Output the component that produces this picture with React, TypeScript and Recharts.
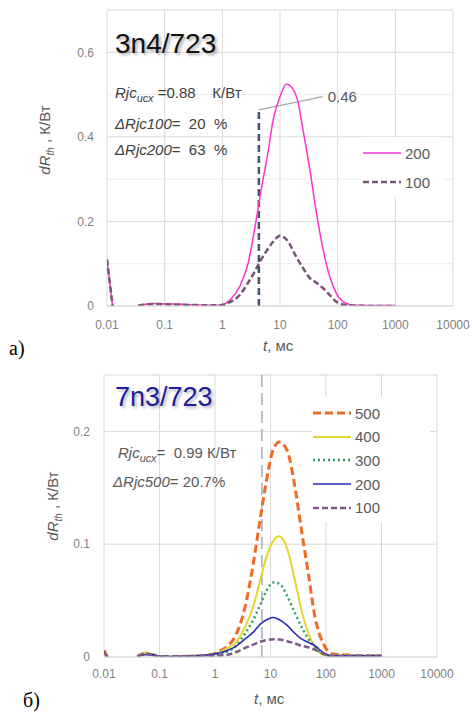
import { CartesianGrid, Line, LineChart, ReferenceDot, ReferenceLine, XAxis, YAxis } from "recharts"

// --- chart а) 3n4/723 ---
const timeA = [0.01, 0.0125, 0.02, 0.035, 0.063, 0.1, 0.2, 0.5, 0.9, 1.35, 2, 2.8, 3.7, 4.5, 6.3, 7.6, 10, 13, 19.4, 25, 33, 43, 56, 73, 95, 141, 200, 500, 1000]
const dR200A = [0.11, 0, null, 0.001, 0.006, 0.005, 0.004, 0.002, 0.002, 0.014, 0.046, 0.101, 0.188, 0.259, 0.37, 0.44, 0.495, 0.525, 0.495, 0.417, 0.322, 0.219, 0.133, 0.069, 0.03, 0.006, 0.002, 0.001, 0.001]
const dR100A = [0.11, 0, null, 0.001, 0.005, 0.004, 0.003, 0.002, 0.002, 0.009, 0.026, 0.055, 0.083, 0.105, 0.137, 0.152, 0.166, 0.157, 0.115, 0.09, 0.066, 0.055, 0.042, 0.026, 0.01, 0.002, 0.001, 0, 0]

// --- chart б) 7n3/723 ---
const timeB = [0.01, 0.0115, 0.02, 0.04, 0.055, 0.075, 0.1, 0.2, 0.5, 1, 1.3, 1.7, 2.3, 3.5, 4.9, 6.5, 8.5, 11.2, 14.5, 20, 27.5, 36, 48, 63, 89, 125, 200, 500, 1000]
const dR500B = [0.006, 0, null, 0.0005, 0.003, 0.002, 0.0005, 0.0005, 0.001, 0.003, 0.006, 0.01, 0.018, 0.045, 0.083, 0.122, 0.157, 0.184, 0.1905, 0.183, 0.151, 0.113, 0.074, 0.036, 0.012, 0.003, 0.002, 0.001, 0.001]
const dR400B = [0.004, 0, null, 0.001, 0.004, 0.002, 0, 0, 0.001, 0.003, 0.005, 0.008, 0.012, 0.027, 0.045, 0.068, 0.089, 0.103, 0.107, 0.096, 0.068, 0.042, 0.021, 0.009, 0.002, 0.001, 0.001, 0.001, 0.001]
const dR300B = [0.005, 0, null, 0.0005, 0.003, 0.002, 0.0005, 0.0005, 0.001, 0.002, 0.003, 0.005, 0.009, 0.021, 0.033, 0.046, 0.059, 0.066, 0.065, 0.054, 0.039, 0.027, 0.016, 0.009, 0.003, 0.001, 0.001, 0.001, 0.001]
const dR200B = [0.004, 0, null, 0.0005, 0.002, 0.002, 0.0005, 0.0005, 0.001, 0.003, 0.004, 0.006, 0.009, 0.016, 0.022, 0.029, 0.033, 0.035, 0.033, 0.028, 0.021, 0.016, 0.013, 0.01, 0.004, 0.001, 0.001, 0.001, 0.001]
const dR100B = [0.004, 0, null, 0.0005, 0.003, 0.002, 0.0005, 0.0005, 0.001, 0.001, 0.0015, 0.002, 0.004, 0.008, 0.011, 0.0135, 0.015, 0.0157, 0.0155, 0.014, 0.012, 0.01, 0.0085, 0.0065, 0.003, 0.001, 0.001, 0.001, 0.001]

const xTicks = [0.01, 0.1, 1, 10, 100, 1000, 10000]
const xTickLabels = ["0.01", "0.1", "1", "10", "100", "1000", "10000"]
const yTicksA = [0, 0.2, 0.4, 0.6, 0.7]
const yTickLabelsA = ["0", "0.2", "0.4", "0.6", ""]
const yMinorA = [0.1, 0.3, 0.5]
const yTicksB = [0, 0.1, 0.2, 0.25]
const yTickLabelsB = ["0", "0.1", "0.2", ""]

const dataA = timeA.map((t, i) => ({ t, s200: dR200A[i], s100: dR100A[i] }))
const dataB = timeB.map((t, i) => ({
  t,
  s500: dR500B[i],
  s400: dR400B[i],
  s300: dR300B[i],
  s200: dR200B[i],
  s100: dR100B[i],
}))

const seriesA = [
  { key: "s200", name: "200", color: "#ff33cc", width: 1.5, dash: undefined },
  { key: "s100", name: "100", color: "#775577", width: 2.5, dash: "6 3" },
]
const seriesB = [
  { key: "s500", name: "500", color: "#ee6a25", width: 3, dash: "8 4" },
  { key: "s400", name: "400", color: "#e4d631", width: 2, dash: undefined },
  { key: "s300", name: "300", color: "#2f9e5e", width: 2.5, dash: "2 3" },
  { key: "s200", name: "200", color: "#2b2bbd", width: 1.6, dash: undefined },
  { key: "s100", name: "100", color: "#7d5a87", width: 2.5, dash: "6 3" },
]

const font = "'Liberation Sans', Arial, sans-serif"
const gridColor = "#d9d9d9"
const tickStyle = { fill: "#7f7f7f", fontSize: 12, fontFamily: font }
const fmtX = (v: number) => xTickLabels[xTicks.indexOf(v)] ?? String(v)

function Txt({ x, y, size = 15, color = "#404040", children, style }: any) {
  return (
    <div
      style={{
        position: "absolute",
        left: x,
        top: y,
        fontSize: size,
        lineHeight: 1,
        color,
        whiteSpace: "pre",
        fontFamily: font,
        ...style,
      }}
    >
      {children}
    </div>
  )
}

function YLabel({ cx, cy }: { cx: number; cy: number }) {
  return (
    <div
      style={{
        position: "absolute",
        left: cx,
        top: cy,
        transform: "translate(-50%, -50%) rotate(-90deg)",
        fontSize: 15,
        lineHeight: 1,
        color: "#595959",
        whiteSpace: "pre",
        fontFamily: font,
      }}
    >
      <i>dR</i>
      <sub style={{ fontSize: 10, fontStyle: "italic", lineHeight: 1 }}>th</sub> , К/Вт
    </div>
  )
}

function LegendBox({ x, y, rowH, items, w, h }: any) {
  return (
    <div style={{ position: "absolute", left: x, top: y, width: w, height: h, background: "#fff" }}>
      {items.map((s: any, i: number) => (
        <div key={s.key} style={{ position: "absolute", left: 0, top: 8 + i * rowH, height: 16, display: "flex", alignItems: "center" }}>
          <svg width={40} height={16}>
            <line x1={1} y1={8} x2={39} y2={8} stroke={s.color} strokeWidth={s.width} strokeDasharray={s.dash} />
          </svg>
          <span style={{ fontSize: 15, color: "#595959", fontFamily: font, marginLeft: 3 }}>{s.name}</span>
        </div>
      ))}
    </div>
  )
}

export default function App() {
  return (
    <div style={{ position: "absolute", left: 0, top: 0, width: 472, height: 713, background: "#fff", overflow: "hidden" }}>
      {/* а) */}
      <div style={{ position: "absolute", left: 0, top: 0 }}>
        <LineChart width={472} height={360} data={dataA} margin={{ top: 10, right: 19, bottom: 24, left: 67 }}>
          <CartesianGrid stroke={gridColor} />
          <XAxis
            dataKey="t"
            type="number"
            scale="log"
            domain={[0.01, 10000]}
            ticks={xTicks}
            tickFormatter={fmtX}
            tick={tickStyle}
            tickLine={false}
            axisLine={{ stroke: gridColor }}
            tickMargin={8}
            height={30}
            allowDataOverflow
          />
          <YAxis
            type="number"
            domain={[0, 0.7]}
            ticks={yTicksA}
            tickFormatter={(v: number) => yTickLabelsA[yTicksA.indexOf(v)] ?? ""}
            tick={tickStyle}
            tickLine={false}
            axisLine={false}
            tickMargin={7}
            width={40}
            allowDataOverflow
          />
          {yMinorA.map((v) => (
            <ReferenceLine key={v} y={v} stroke="#ececec" strokeWidth={1} />
          ))}
          <ReferenceLine segment={[{ x: 4.3, y: 0 }, { x: 4.3, y: 0.464 }]} stroke="#44546a" strokeWidth={2.5} strokeDasharray="7 4" />
          <ReferenceLine segment={[{ x: 4.3, y: 0.464 }, { x: 55, y: 0.495 }]} stroke="#a6a6a6" strokeWidth={1.2} />
          <ReferenceDot
            x={55}
            y={0.495}
            r={0}
            fill="none"
            stroke="none"
            label={{ value: "0.46", position: "right", fill: "#595959", fontSize: 15, fontFamily: font }}
          />
          {seriesA.map((s) => (
            <Line
              key={s.key}
              type="monotone"
              dataKey={s.key}
              name={s.name}
              stroke={s.color}
              strokeWidth={s.width}
              strokeDasharray={s.dash}
              dot={false}
              isAnimationActive={false}
            />
          ))}
        </LineChart>
        <LegendBox x={362} y={137} rowH={29} items={seriesA} w={82} h={60} />
        <Txt x={115} y={30} size={28} color="#111" style={{ textShadow: "2px 2px 3px rgba(0,0,0,0.35)" }}>
          3n4/723
        </Txt>
        <Txt x={115} y={85}>
          <i>Rjc</i>
          <sub style={{ fontSize: 11, fontStyle: "italic" }}>исх</sub> =0.88    К/Вт
        </Txt>
        <Txt x={115} y={116}>
          <i>ΔRjc100</i>=  20  %
        </Txt>
        <Txt x={115} y={142}>
          <i>ΔRjc200</i>=  63  %
        </Txt>
        <YLabel cx={46} cy={140} />
        <Txt x={263} y={338} color="#595959">
          <i>t</i>, мс
        </Txt>
        <Txt x={9} y={338} size={20} color="#000" style={{ fontFamily: "'Liberation Serif', serif" }}>
          а)
        </Txt>
      </div>

      {/* б) */}
      <div style={{ position: "absolute", left: 0, top: 360 }}>
        <LineChart width={472} height={353} data={dataB} margin={{ top: 15, right: 35, bottom: 26, left: 64 }}>
          <CartesianGrid stroke={gridColor} />
          <XAxis
            dataKey="t"
            type="number"
            scale="log"
            domain={[0.01, 10000]}
            ticks={xTicks}
            tickFormatter={fmtX}
            tick={tickStyle}
            tickLine={false}
            axisLine={{ stroke: gridColor }}
            tickMargin={6}
            height={30}
            allowDataOverflow
          />
          <YAxis
            type="number"
            domain={[0, 0.25]}
            ticks={yTicksB}
            tickFormatter={(v: number) => yTickLabelsB[yTicksB.indexOf(v)] ?? ""}
            tick={tickStyle}
            tickLine={false}
            axisLine={false}
            tickMargin={8}
            width={40}
            allowDataOverflow
          />
          <ReferenceLine x={7} stroke="#a3adb8" strokeWidth={1.5} strokeDasharray="12 6" />
          {seriesB.map((s) => (
            <Line
              key={s.key}
              type="monotone"
              dataKey={s.key}
              name={s.name}
              stroke={s.color}
              strokeWidth={s.width}
              strokeDasharray={s.dash}
              dot={false}
              isAnimationActive={false}
            />
          ))}
        </LineChart>
        <LegendBox x={312} y={37} rowH={23.7} items={seriesB} w={118} h={125} />
        <Txt x={115} y={24} size={27} color="#1c1c9c" style={{ textShadow: "2px 2px 3px rgba(0,0,0,0.3)" }}>
          7n3/723
        </Txt>
        <Txt x={118} y={85} color="#595959">
          <i>Rjc</i>
          <sub style={{ fontSize: 11, fontStyle: "italic" }}>исх</sub>=  0.99 К/Вт
        </Txt>
        <Txt x={113} y={114} color="#595959">
          <i>ΔRjc500</i>= 20.7%
        </Txt>
        <YLabel cx={54} cy={146} />
        <Txt x={254} y={331} color="#595959">
          <i>t</i>, мс
        </Txt>
        <Txt x={23} y={330} size={20} color="#000" style={{ fontFamily: "'Liberation Serif', serif" }}>
          б)
        </Txt>
      </div>
    </div>
  )
}
